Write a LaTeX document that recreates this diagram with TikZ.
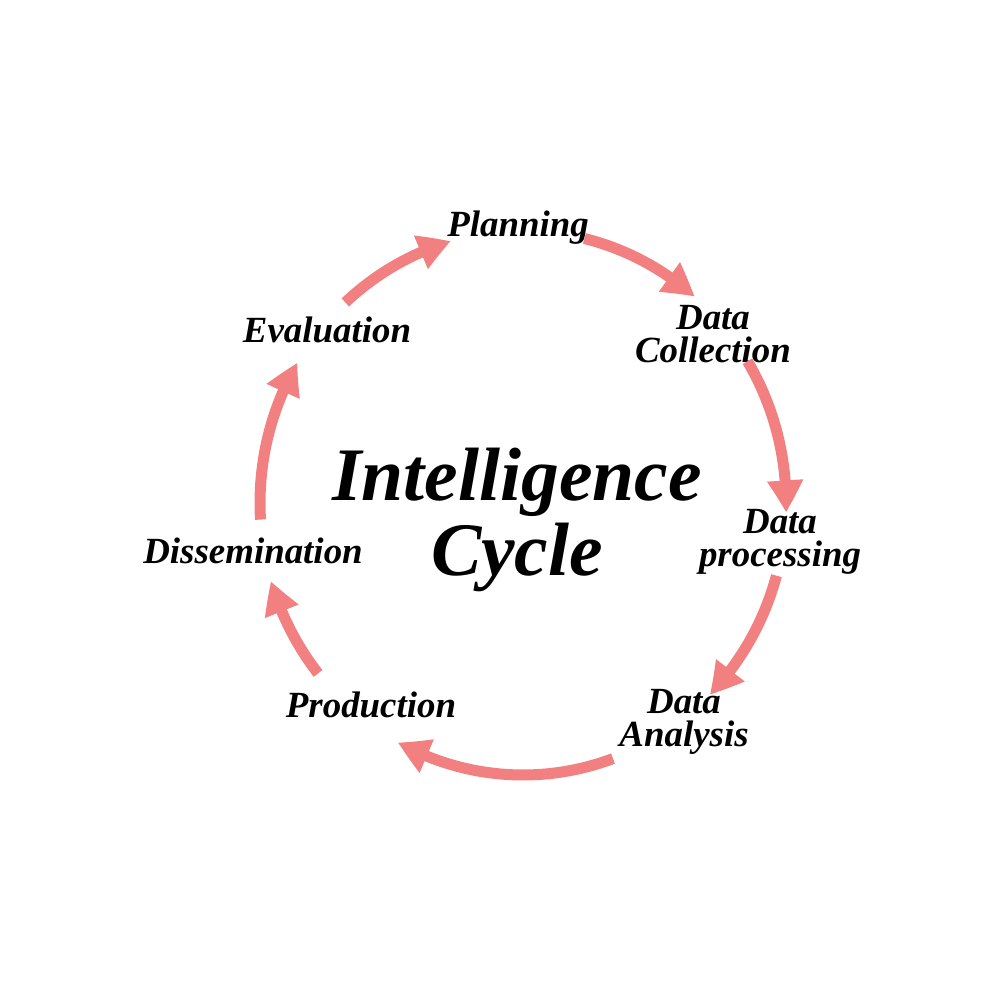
\documentclass[tikz,border=0pt]{standalone}
\usepackage{fontspec}
\setmainfont{Liberation Serif}
\usetikzlibrary{arrows.meta, bending}
\definecolor{cyclered}{RGB}{242,128,128}
\tikzset{%
  steplabel/.style={font=\fontsize{10.5}{9.5}\selectfont\bfseries\itshape, align=center, inner sep=0pt},
  cyclearrow/.style={draw=cyclered, line width=0.11cm, -{Triangle[width=0.34cm, length=0.32cm, bend]}},
}
\begin{document}
\begin{tikzpicture}%
\useasboundingbox (0, 0) rectangle (10, 10);%
\fill[white] (0, 0) rectangle (10, 10);%
\coordinate (ctr) at (5.23, 4.97);%
\node[font=\fontsize{21.5}{21.5}\selectfont\bfseries\itshape, align=center, inner sep=0pt] (title) at (5.17, 4.80) {Intelligence\\Cycle};%
\node[steplabel] (plan) at (5.18, 7.72) {Planning};%
\node[steplabel] (dcol) at (7.13, 6.66) {Data\\Collection};%
\node[steplabel] (dproc) at (7.80, 4.58) {Data\\processing};%
\node[steplabel] (dana) at (6.84, 2.78) {Data\\Analysis};%
\node[steplabel] (prod) at (3.71, 2.95) {Production};%
\node[steplabel] (diss) at (2.53, 4.49) {Dissemination};%
\node[steplabel] (eval) at (3.27, 6.70) {Evaluation};%
\foreach \from/\to in {76.5/49.3, 31.4/-2, -15.5/-44.8, -70/-118.4, -141.2/-163.3, 183.5/149, 132.5/105.9}%
  \draw[cyclearrow] ([shift={(\from:2.63 and 2.72)}]ctr) arc[start angle=\from, end angle=\to, x radius=2.63, y radius=2.72];%
\end{tikzpicture}
\end{document}
